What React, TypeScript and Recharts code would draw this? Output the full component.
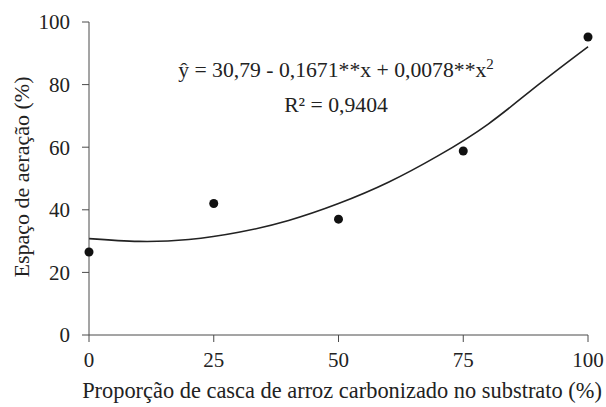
import {
  ComposedChart,
  Scatter,
  Line,
  XAxis,
  YAxis,
} from "recharts";

// observed points
const proportion = [0, 25, 50, 75, 100];
const aeration = [26.5, 42, 37, 58.8, 95.2];

// fitted curve
const curveX = [0, 10, 20, 30, 40, 50, 60, 70, 80, 90, 100];
const curveY = [30.8, 29.9, 30.5, 32.8, 36.6, 42.0, 48.8, 57.3, 67.4, 79.9, 92.1];

const xTicks = [0, 25, 50, 75, 100];
const yTicks = [0, 20, 40, 60, 80, 100];

const points = proportion.map((x, i) => ({ x, y: aeration[i] }));
const curve = curveX.map((x, i) => ({ x, fit: curveY[i] }));

const font = "Liberation Serif, serif";
const axisColor = "#4a4a4a";
const textColor = "#222";
const txt = { fontFamily: font, fill: textColor };

export default function App() {
  return (
    <div style={{ position: "absolute", left: 0, top: 0, background: "#fff" }}>
      <ComposedChart
        width={606}
        height={407}
        margin={{ top: 22, right: 18, bottom: 42, left: 0 }}
      >
        <XAxis
          type="number"
          dataKey="x"
          domain={[0, 100]}
          ticks={xTicks}
          tickSize={7}
          tickMargin={10}
          stroke={axisColor}
          tick={{ fontSize: 21, style: txt, fill: textColor }}
        />
        <YAxis
          type="number"
          domain={[0, 100]}
          ticks={yTicks}
          width={89}
          tickSize={7}
          tickMargin={12}
          stroke={axisColor}
          tick={{ fontSize: 21, style: txt, fill: textColor }}
        />
        <Line
          data={curve}
          dataKey="fit"
          type="natural"
          stroke="#222"
          strokeWidth={1.6}
          dot={false}
          isAnimationActive={false}
        />
        <Scatter
          data={points}
          dataKey="y"
          fill="#111"
          shape={(p: any) => <circle cx={p.cx} cy={p.cy} r={4.5} fill="#111" />}
          isAnimationActive={false}
        />
        <text x={336} y={77} textAnchor="middle" fontSize={21.7} style={txt}>
          ŷ = 30,79  - 0,1671**x + 0,0078**x
          <tspan dy={-8} fontSize={15}>2</tspan>
        </text>
        <text x={336} y={112} textAnchor="middle" fontSize={21.7} style={txt}>
          R² = 0,9404
        </text>
        <text
          x={29}
          y={177}
          transform="rotate(-90 29 177)"
          textAnchor="middle"
          fontSize={22}
          style={txt}
        >
          Espaço de aeração (%)
        </text>
        <text x={342} y={398} textAnchor="middle" fontSize={22.4} style={txt}>
          Proporção de casca de arroz carbonizado no substrato (%)
        </text>
      </ComposedChart>
    </div>
  );
}
